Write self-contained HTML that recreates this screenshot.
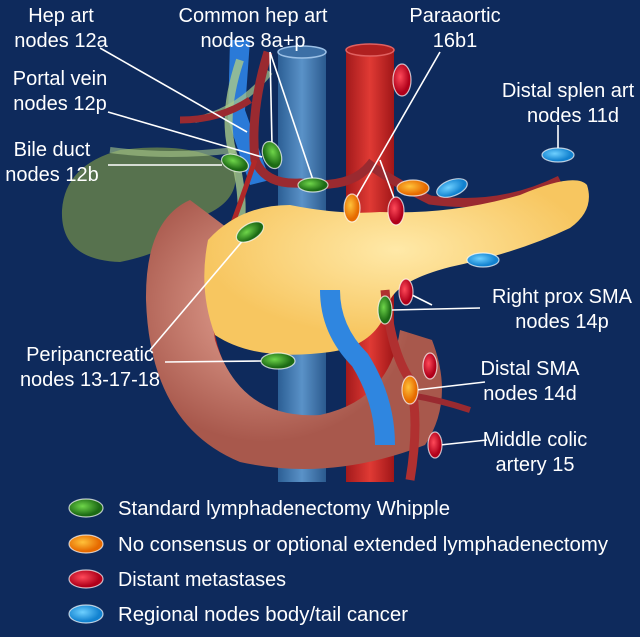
<!DOCTYPE html>
<html><head><meta charset="utf-8"><style>
html,body{margin:0;padding:0;background:#0e2a5c;}
svg{display:block}
text{font-family:"Liberation Sans",sans-serif;fill:#fff;font-size:20px}
</style></head><body>
<svg width="640" height="637" viewBox="0 0 640 637" xmlns="http://www.w3.org/2000/svg">
<defs>
<linearGradient id="ivc" x1="0" x2="1"><stop offset="0" stop-color="#2c5f95"/><stop offset=".5" stop-color="#5a92c8"/><stop offset="1" stop-color="#2b5a8e"/></linearGradient>
<linearGradient id="ao" x1="0" x2="1"><stop offset="0" stop-color="#a31a1c"/><stop offset=".5" stop-color="#e03a34"/><stop offset="1" stop-color="#a01618"/></linearGradient>
<radialGradient id="g" cx=".4" cy=".4"><stop offset="0" stop-color="#6fd64a"/><stop offset="1" stop-color="#1c6a14"/></radialGradient>
<radialGradient id="o" cx=".4" cy=".4"><stop offset="0" stop-color="#ffc23a"/><stop offset="1" stop-color="#e66a00"/></radialGradient>
<radialGradient id="r" cx=".4" cy=".4"><stop offset="0" stop-color="#ff4a5a"/><stop offset="1" stop-color="#b0001a"/></radialGradient>
<radialGradient id="b" cx=".4" cy=".4"><stop offset="0" stop-color="#6ed0ff"/><stop offset="1" stop-color="#1282d0"/></radialGradient>
<radialGradient id="pan" cx=".5" cy=".4"><stop offset="0" stop-color="#ffe9a8"/><stop offset="1" stop-color="#f7c660"/></radialGradient>
<radialGradient id="duo" cx=".4" cy=".4"><stop offset="0" stop-color="#e8a898"/><stop offset="1" stop-color="#a8584c"/></radialGradient>
</defs>
<rect width="640" height="637" fill="#0e2a5c"/>
<path d="M120 150 Q200 140 235 170 Q240 200 205 215 Q180 250 120 262 Q60 260 62 210 Q65 165 120 150Z" fill="#5f7a4c" opacity=".9"/>
<path d="M230 40 L250 40 L245 110 L270 180 L250 185 L228 120Z" fill="#2a7ad8"/>
<path d="M240 60 Q220 120 235 160 Q245 200 240 230" stroke="#a9c98a" stroke-width="8" fill="none" opacity=".8"/>
<path d="M195 120 Q240 110 270 72" stroke="#a9c98a" stroke-width="6" fill="none" opacity=".7"/>
<path d="M110 150 Q170 158 235 150" stroke="#a9c98a" stroke-width="6" fill="none" opacity=".6"/>
<rect x="278" y="52" width="48" height="430" fill="url(#ivc)"/>
<ellipse cx="302" cy="52" rx="24" ry="6" fill="#3c6fa6" stroke="#9cc0e6" stroke-width="1.5"/>
<rect x="346" y="50" width="48" height="432" fill="url(#ao)"/>
<ellipse cx="370" cy="50" rx="24" ry="6" fill="#b02020" stroke="#e06060" stroke-width="1.5"/>
<path d="M268 52 Q250 110 255 160 Q265 185 300 183 Q350 190 370 165 Q390 180 430 200 Q500 210 560 180" stroke="#9a2a30" stroke-width="9" fill="none"/>
<path d="M180 120 Q220 120 250 100" stroke="#9a2a30" stroke-width="7" fill="none"/>
<path d="M255 160 Q235 220 215 270 Q200 330 230 380" stroke="#b02828" stroke-width="5" fill="none"/>
<path d="M190 200 Q145 220 146 300 Q150 425 240 462 Q330 482 425 445 Q455 400 432 340 L400 330 Q390 400 320 415 Q240 420 215 340 Q205 280 230 230Z" fill="url(#duo)"/>
<path d="M208 240 Q240 205 290 205 Q340 215 380 212 Q450 215 520 195 Q575 172 587 185 Q595 210 570 228 Q520 252 450 267 Q400 280 390 300 Q380 345 330 352 Q255 362 215 335 Q198 290 208 240Z" fill="url(#pan)"/>
<path d="M330 290 Q330 330 360 360 Q385 400 385 445" stroke="#2f86e0" stroke-width="20" fill="none"/>
<path d="M385 290 Q390 350 410 380 Q420 420 410 480" stroke="#b03030" stroke-width="9" fill="none"/>
<path d="M410 395 Q440 400 470 410" stroke="#9a2a30" stroke-width="6" fill="none"/>
<g stroke="#fff" stroke-width="1.6" fill="none">
<line x1="100" y1="48" x2="247" y2="132"/>
<line x1="270" y1="52" x2="313" y2="180"/>
<line x1="270" y1="52" x2="272" y2="145"/>
<line x1="108" y1="112" x2="262" y2="157"/>
<line x1="108" y1="165" x2="222" y2="165"/>
<line x1="440" y1="52" x2="356" y2="198"/>
<line x1="380" y1="160" x2="394" y2="198"/>
<line x1="558" y1="125" x2="558" y2="148"/>
<line x1="480" y1="308" x2="392" y2="310"/>
<line x1="432" y1="305" x2="410" y2="294"/>
<line x1="485" y1="382" x2="416" y2="390"/>
<line x1="487" y1="440" x2="440" y2="445"/>
<line x1="150" y1="350" x2="245" y2="238"/>
<line x1="165" y1="362" x2="262" y2="361"/>
</g>
<g stroke="#fff" stroke-width="1.2" stroke-opacity=".7">
<ellipse cx="235" cy="163" rx="14" ry="8" transform="rotate(20 235 163)" fill="url(#g)"/>
<ellipse cx="272" cy="155" rx="14" ry="9" transform="rotate(70 272 155)" fill="url(#g)"/>
<ellipse cx="313" cy="185" rx="15" ry="7" fill="url(#g)"/>
<ellipse cx="250" cy="232" rx="15" ry="8" transform="rotate(-30 250 232)" fill="url(#g)"/>
<ellipse cx="278" cy="361" rx="17" ry="8" fill="url(#g)"/>
<ellipse cx="385" cy="310" rx="7" ry="14" fill="url(#g)"/>
<ellipse cx="402" cy="80" rx="9" ry="16" fill="url(#r)"/>
<ellipse cx="352" cy="208" rx="8" ry="14" fill="url(#o)"/>
<ellipse cx="396" cy="211" rx="8" ry="14" fill="url(#r)"/>
<ellipse cx="413" cy="188" rx="16" ry="8" fill="url(#o)"/>
<ellipse cx="452" cy="188" rx="16" ry="8" transform="rotate(-20 452 188)" fill="url(#b)"/>
<ellipse cx="558" cy="155" rx="16" ry="7" fill="url(#b)"/>
<ellipse cx="483" cy="260" rx="16" ry="7" fill="url(#b)"/>
<ellipse cx="406" cy="292" rx="7" ry="13" fill="url(#r)"/>
<ellipse cx="430" cy="366" rx="7" ry="13" fill="url(#r)"/>
<ellipse cx="410" cy="390" rx="8" ry="14" fill="url(#o)"/>
<ellipse cx="435" cy="445" rx="7" ry="13" fill="url(#r)"/>
</g>
<g text-anchor="middle">
<text x="61" y="22">Hep art</text><text x="61" y="47">nodes 12a</text>
<text x="253" y="22">Common hep art</text><text x="253" y="47">nodes 8a+p</text>
<text x="455" y="22">Paraaortic</text><text x="455" y="47">16b1</text>
<text x="60" y="85">Portal vein</text><text x="60" y="110">nodes 12p</text>
<text x="52" y="156">Bile duct</text><text x="52" y="181">nodes 12b</text>
<text x="568" y="97">Distal splen art</text><text x="573" y="122">nodes 11d</text>
<text x="562" y="303">Right prox SMA</text><text x="562" y="328">nodes 14p</text>
<text x="530" y="375">Distal SMA</text><text x="530" y="400">nodes 14d</text>
<text x="535" y="446">Middle colic</text><text x="535" y="471">artery 15</text>
<text x="90" y="361">Peripancreatic</text><text x="90" y="386">nodes 13-17-18</text>
</g>
<g stroke="#fff" stroke-width="1.2" stroke-opacity=".7">
<ellipse cx="86" cy="508" rx="17" ry="9" fill="url(#g)"/>
<ellipse cx="86" cy="544" rx="17" ry="9" fill="url(#o)"/>
<ellipse cx="86" cy="579" rx="17" ry="9" fill="url(#r)"/>
<ellipse cx="86" cy="614" rx="17" ry="9" fill="url(#b)"/>
</g>
<text x="118" y="515" textLength="332" lengthAdjust="spacingAndGlyphs">Standard lymphadenectomy Whipple</text>
<text x="118" y="551" textLength="490" lengthAdjust="spacingAndGlyphs">No consensus or optional extended lymphadenectomy</text>
<text x="118" y="586" textLength="168" lengthAdjust="spacingAndGlyphs">Distant metastases</text>
<text x="118" y="621" textLength="290" lengthAdjust="spacingAndGlyphs">Regional nodes body/tail cancer</text>
</svg>
</body></html>
